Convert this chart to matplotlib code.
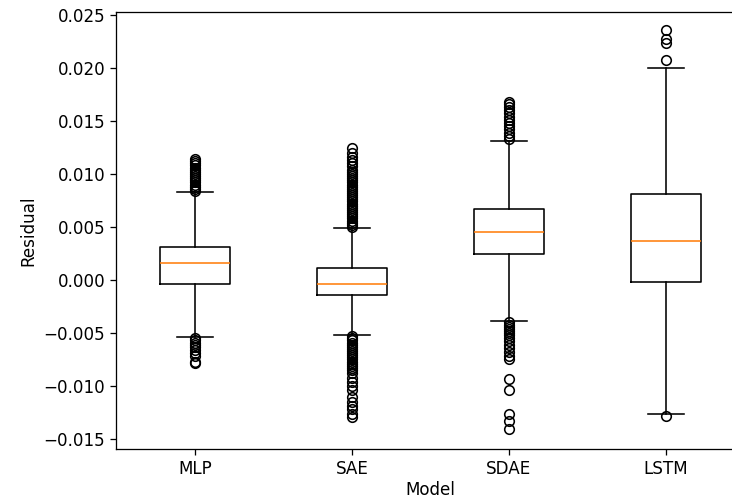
import matplotlib
matplotlib.use("Agg")
import matplotlib.pyplot as plt

plt.rcParams["font.size"] = 10.5

# box statistics
models = ["MLP", "SAE", "SDAE", "LSTM"]
medians = [0.0016, -0.0004, 0.0045, 0.0037]
q1s = [-0.0004, -0.00145, 0.00245, -0.0002]
q3s = [0.0031, 0.00113, 0.0067, 0.0081]
whis_lo = [-0.0054, -0.0052, -0.0039, -0.01267]
whis_hi = [0.0083, 0.0049, 0.0131, 0.01997]

mlp_fliers = [0.0084, 0.0086, 0.0088, 0.0090, 0.0092, 0.0094, 0.0096, 0.0098,
              0.0100, 0.0102, 0.0104, 0.0106, 0.0108, 0.0110, 0.0112, 0.0114,
              -0.0055, -0.0057, -0.0059, -0.0061, -0.0063, -0.0066, -0.0069,
              -0.0072, -0.0077, -0.0078]
sae_fliers = [0.0050, 0.0052, 0.0054, 0.0056, 0.0058, 0.0060, 0.0062, 0.0064,
              0.0066, 0.0068, 0.0070, 0.0072, 0.0074, 0.0076, 0.0078, 0.0080,
              0.0082, 0.0084, 0.0086, 0.0088, 0.0090, 0.0092, 0.0094, 0.0096,
              0.0098, 0.0100, 0.0102, 0.0104, 0.0107, 0.0110, 0.0113, 0.0116,
              0.0120, 0.0124,
              -0.0053, -0.0055, -0.0057, -0.0059, -0.0061, -0.0063, -0.0065,
              -0.0067, -0.0069, -0.0071, -0.0073, -0.0075, -0.0077, -0.0079,
              -0.0081, -0.0083, -0.0085, -0.0088, -0.0092, -0.0096, -0.0100,
              -0.0104, -0.0110, -0.0115, -0.0119, -0.0122, -0.0126, -0.0129]
sdae_fliers = [0.0133, 0.0136, 0.0139, 0.0142, 0.0145, 0.0148, 0.0151, 0.0154,
               0.0157, 0.0160, 0.0163, 0.0166, 0.0168,
               -0.0040, -0.0042, -0.0044, -0.0046, -0.0048, -0.0050, -0.0052,
               -0.0055, -0.0058, -0.0061, -0.0064, -0.0068, -0.0072, -0.0075,
               -0.0093, -0.0104, -0.0126, -0.0133, -0.0141]
lstm_fliers = [0.0207, 0.0223, 0.0227, 0.0236, -0.0128]
fliers = [mlp_fliers, sae_fliers, sdae_fliers, lstm_fliers]

stats = []
for i, name in enumerate(models):
    stats.append(dict(label=name, med=medians[i], q1=q1s[i], q3=q3s[i],
                      whislo=whis_lo[i], whishi=whis_hi[i], fliers=fliers[i]))

fig = plt.figure(figsize=(732 / 115, 499 / 115), dpi=115)
# the reference is cropped on the right, so the axes run past the edge
ax = fig.add_axes([0.159, 0.1002, 0.858, 0.876])
ax.bxp(stats, showfliers=True)
ax.set_ylim(-0.01594, 0.02528)
ax.set_xlabel("Model", labelpad=1.5)
ax.set_ylabel("Residual")

fig.savefig("out.png", dpi=115)
